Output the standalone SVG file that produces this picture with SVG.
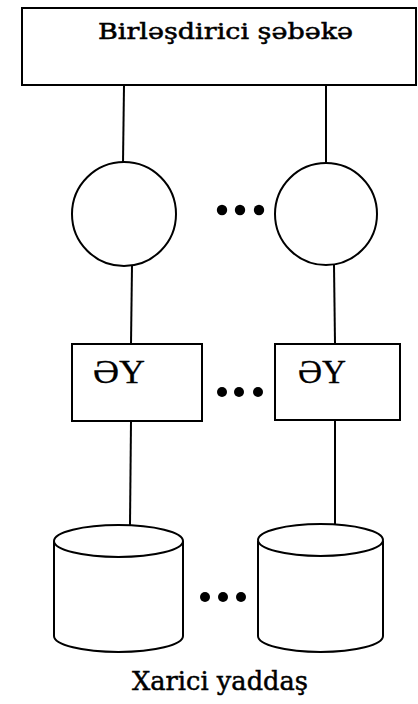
<svg xmlns="http://www.w3.org/2000/svg" width="418" height="704" viewBox="0 0 418 704">
<style>
.s{fill:#fff;stroke:#000;stroke-width:2}
.c{fill:none;stroke:#000;stroke-width:2}
.d{fill:#000}
.t{font-family:"DejaVu Serif","Liberation Serif",serif;fill:#000;stroke:#000;stroke-width:0.5}
.m{font-family:"Liberation Serif","DejaVu Serif",serif;fill:#000;stroke:#000;stroke-width:0.3}
</style>
<rect width="418" height="704" fill="#fff"/>
<g id="connectors">
<line class="c" x1="124" y1="85" x2="123" y2="163"/>
<line class="c" x1="326" y1="85" x2="326" y2="162"/>
<line class="c" x1="132" y1="265" x2="131" y2="344"/>
<line class="c" x1="334" y1="265" x2="335" y2="344"/>
<line class="c" x1="131" y1="421" x2="130" y2="525"/>
<line class="c" x1="335" y1="420" x2="335" y2="524"/>
</g>
<g id="network">
<rect class="s" x="22" y="8" width="394" height="77"/>
<text class="t" x="98" y="39" font-size="22" textLength="255" lengthAdjust="spacingAndGlyphs">Birləşdirici şəbəkə</text>
</g>
<g id="proc1"><circle class="s" cx="124" cy="214" r="52"/></g>
<g id="proc2"><circle class="s" cx="326" cy="214" r="51"/></g>
<g id="dots1"><circle class="d" cx="222" cy="210" r="5.2"/><circle class="d" cx="240" cy="210" r="5.2"/><circle class="d" cx="259" cy="210" r="5.2"/></g>
<g id="mem1">
<rect class="s" x="72" y="344" width="130" height="77"/>
<text class="m" x="93" y="383" font-size="34" textLength="52" lengthAdjust="spacingAndGlyphs">ƏY</text>
</g>
<g id="mem2">
<rect class="s" x="275" y="344" width="125" height="76"/>
<text class="m" x="298" y="383" font-size="34" textLength="48" lengthAdjust="spacingAndGlyphs">ƏY</text>
</g>
<g id="dots2"><circle class="d" cx="222" cy="392" r="5"/><circle class="d" cx="239" cy="392" r="5"/><circle class="d" cx="258" cy="392" r="5"/></g>
<g id="disk1">
<path class="s" d="M54,541 L54,636 A64.5,16 0 0 0 183,636 L183,541"/>
<ellipse class="s" cx="118.5" cy="541" rx="64.5" ry="16"/>
</g>
<g id="disk2">
<path class="s" d="M258,541 L258,636 A62.5,16 0 0 0 383,636 L383,541"/>
<ellipse class="s" cx="320.5" cy="540" rx="62.5" ry="16"/>
</g>
<g id="dots3"><circle class="d" cx="205" cy="597" r="5"/><circle class="d" cx="223" cy="597" r="5"/><circle class="d" cx="241" cy="597" r="5"/></g>
<text class="t" x="132" y="690" font-size="26" textLength="176" lengthAdjust="spacingAndGlyphs">Xarici yaddaş</text>
</svg>
